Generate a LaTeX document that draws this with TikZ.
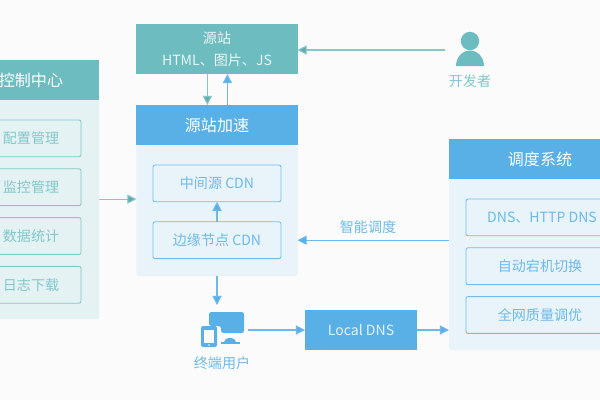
\documentclass[tikz,border=0pt]{standalone}
\usepackage{fontspec}
\setmainfont{Noto Sans CJK SC}
\usepackage{xcolor}
\usetikzlibrary{arrows.meta,positioning}

\definecolor{pagebg}{HTML}{FBFBFB}
\definecolor{tealdark}{HTML}{6DBDC0}
\definecolor{teallight}{HTML}{E4F2F4}
\definecolor{tealtext}{HTML}{82C8CB}
\definecolor{bluedark}{HTML}{58B0E6}
\definecolor{bluelight}{HTML}{E8F4FA}
\definecolor{bluetext}{HTML}{6DBAEA}

\begin{document}
\begin{tikzpicture}[
x=0.25mm, y=-0.25mm,
node distance=3mm and 3mm,
head/.style={fill=#1, text=white, minimum height=10mm, inner sep=0pt, outer sep=0pt, font=\fontsize{11.4}{13}\selectfont},
body/.style={fill=#1, rounded corners=0.4mm, inner sep=0pt, outer sep=0pt, anchor=north},
item/.style={draw=#1, line width=0.6pt, rounded corners=0.5mm, inner sep=0pt, outer sep=0pt, minimum height=9.2mm, font=\fontsize{10}{12}\selectfont},
tealitem/.style={item=tealdark!85, fill=teallight, text=tealtext, minimum width=25mm},
blueitem/.style={item=bluedark!85, fill=bluelight, text=bluetext},
tealarr/.style={-{Triangle[length=2.3mm,width=2.3mm,fill=tealdark!90!black]}, draw=tealtext, line width=0.8pt},
bluearr/.style={-{Triangle[length=2.3mm,width=2.3mm,fill=bluedark]}, draw=bluetext, line width=0.8pt},
capt/.style={inner sep=0pt, font=\fontsize{10}{12}\selectfont}
]
\clip (0,0) rectangle (600,400);
\fill[pagebg] (0,0) rectangle (600,400);

% control panel on the left
\node[head=tealdark, minimum width=34mm] (ctrl) at (31,80) {控制中心};
\node[body=teallight, minimum width=34mm, minimum height=54.75mm] (ctrlbody) at (ctrl.south) {};
\node[tealitem, below=5mm of ctrl] (conf) {配置管理};
\node[tealitem, below=3mm of conf] (mon) {监控管理};
\node[tealitem, below=3mm of mon] (stat) {数据统计};
\node[tealitem, below=3mm of stat] (logs) {日志下载};

% origin and acceleration
\node[fill=tealdark, minimum width=40.25mm, minimum height=12.5mm, align=center, text=white!85!tealdark, inner sep=0pt, outer sep=0pt, font=\fontsize{10}{16}\selectfont] (origin) at (217,49) {源站\\HTML、图片、JS};
\node[head=bluedark, minimum width=40.25mm] (accel) at (217,125) {源站加速};
\node[body=bluelight, minimum width=40.25mm, minimum height=32.75mm] (accbody) at (accel.south) {};
\node[blueitem, minimum width=32mm, below=5mm of accel] (mid) {中间源 CDN};
\node[blueitem, minimum width=32mm, below=5mm of mid] (edge) {边缘节点 CDN};

% scheduling system on the right
\node[head=bluedark, minimum width=45.5mm] (sched) at (540,159) {调度系统};
\node[body=bluelight, minimum width=45.5mm, minimum height=42.75mm] (schedbody) at (sched.south) {};
\node[blueitem, minimum width=37mm, below=5mm of sched] (dns) {\hspace{1mm}DNS、HTTP DNS};
\node[blueitem, minimum width=37mm, below=3mm of dns] (fail) {自动宕机切换};
\node[blueitem, minimum width=37mm, below=3mm of fail] (tune) {全网质量调优};

\node[fill=bluedark, text=white!85!bluedark, minimum width=28mm, minimum height=10mm, inner sep=0pt, outer sep=0pt, font=\fontsize{10}{12}\selectfont] (ldns) at (361,330) {Local DNS};

% developer icon
\fill[tealdark] (470,41) circle (9.2);
\fill[tealdark] (456,66) arc[start angle=180, end angle=360, x radius=14, y radius=15.5] -- cycle;
\node[capt, text=tealtext] (dev) at (470,81) {开发者};
\coordinate (devout) at (445,50);

% end user icon
\fill[bluedark, rounded corners=0.6mm] (209,312) -- (244,312) -- (244,333) -- (221,333) -- (221,326) -- (209,326) -- cycle;
\fill[bluedark] (224,342) arc[start angle=180, end angle=360, x radius=6, y radius=4] -- cycle;
\fill[bluedark] (221,342) rectangle (240,343.5);
\fill[bluedark, rounded corners=0.4mm] (201,326) rectangle (217,347);
\fill[pagebg] (204,330) rectangle (214,343);
\fill[pagebg] (209,345) circle (0.8);
\node[capt, text=bluetext] (user) at (222,363) {终端用户};
\coordinate (userin) at (217,305);
\coordinate (userout) at (248,330);
\coordinate (ctrlout) at ([yshift=2.6mm]ctrlbody.east);

% connectors
\draw[tealarr] (devout) -- (origin.east |- devout);
\draw[tealarr] ([xshift=-2.4mm]origin.south) -- ([xshift=-2.4mm]accel.north);
\draw[bluearr] ([xshift=2.6mm]accel.north) -- ([xshift=2.6mm]origin.south);
\draw[tealarr] (ctrlout) -- (accbody.west |- ctrlout);
\draw[bluearr] (edge) -- (mid);
\draw[bluearr] (accbody.south) -- (userin);
\draw[bluearr] (userout) -- (ldns);
\draw[bluearr] (ldns) -- (schedbody.west |- ldns);
\draw[bluearr] (schedbody.west |- edge) -- node[above=1.4mm, xshift=-1.3mm, capt, text=bluetext] (smart) {智能调度} (accbody.east |- edge);
\end{tikzpicture}
\end{document}
